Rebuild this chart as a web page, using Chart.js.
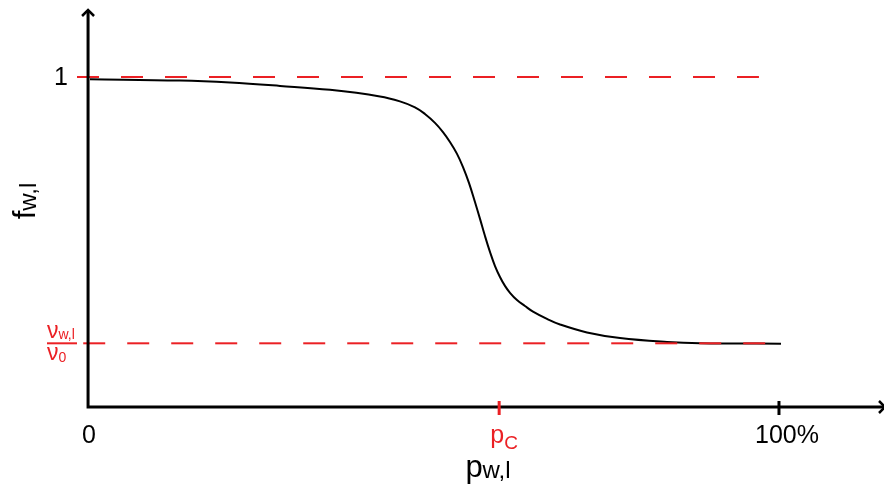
<!DOCTYPE html>
<html><head><meta charset="utf-8">
<script src="https://cdn.jsdelivr.net/npm/chart.js@4/dist/chart.umd.min.js"></script>
<style>html,body{margin:0;padding:0;background:#fff}</style>
</head><body>
<canvas id="c" width="884" height="489" style="width:884px;height:489px;display:block"></canvas>
<script>
// ---- data ----
const curveX = [0.28, 13.31, 20.55, 27.78, 35.02, 42.25, 45.14, 47.32, 48.76, 50.21, 51.37, 52.38, 53.40, 54.27, 55.13, 56.00, 56.73, 57.45, 58.17, 58.90, 59.62, 60.34, 61.07, 62.08, 63.24, 64.40, 66.42, 68.31, 72.21, 76.99, 83.79, 88.57, 100.29];
const curveY = [0.993, 0.989, 0.983, 0.973, 0.961, 0.941, 0.926, 0.908, 0.888, 0.861, 0.833, 0.803, 0.767, 0.727, 0.679, 0.621, 0.570, 0.518, 0.470, 0.427, 0.394, 0.367, 0.346, 0.324, 0.306, 0.289, 0.267, 0.250, 0.226, 0.209, 0.197, 0.193, 0.192];
const upperLevel = 1;
const lowerLevel = 0.193;
const upperLineX = [-1.6, 97.1];
const lowerLineX = [-0.7, 98.0];
const criticalP = 59.5;
const xTickValues = [0, criticalP, 100];
const xTickLabels = [['0', ''], ['p', 'C'], ['100%', '']];
const yTickLabels = ['1'];
const xTitle = ['p', 'w,l'];
const yTitle = ['f', 'w,l'];
const fracTop = ['ν', 'w,l'];
const fracBottom = ['ν', '0'];

const RED = 'rgb(235,32,36)';
const FONT = '"Liberation Sans", Arial, sans-serif';

function subText(ctx, parts, x, y, size, subSize, dy, align, color) {
  ctx.save();
  ctx.fillStyle = color;
  ctx.textBaseline = 'alphabetic';
  ctx.textAlign = 'left';
  ctx.font = size + 'px ' + FONT;
  const w1 = ctx.measureText(parts[0]).width;
  ctx.font = subSize + 'px ' + FONT;
  const w2 = parts[1] ? ctx.measureText(parts[1]).width : 0;
  const total = w1 + w2;
  let x0 = x;
  if (align === 'center') x0 = x - total / 2;
  else if (align === 'right') x0 = x - total;
  ctx.font = size + 'px ' + FONT;
  ctx.fillText(parts[0], x0, y);
  if (parts[1]) {
    ctx.font = subSize + 'px ' + FONT;
    ctx.fillText(parts[1], x0 + w1, y + dy);
  }
  ctx.restore();
}

const labelShift = [1, 5, 8];

const axesPlugin = {
  id: 'axesPlugin',
  afterDatasetsDraw(chart) {
    const ctx = chart.ctx;
    const xs = chart.scales.x, ys = chart.scales.y;
    const x0 = xs.getPixelForValue(0), y0 = ys.getPixelForValue(0);
    const xEnd = chart.chartArea.right, yTop = chart.chartArea.top;
    ctx.save();
    ctx.strokeStyle = '#000';
    ctx.lineWidth = 3;
    ctx.lineCap = 'butt';
    ctx.beginPath();
    ctx.moveTo(x0, y0); ctx.lineTo(x0, yTop);
    ctx.moveTo(x0 - 1.5, y0); ctx.lineTo(xEnd, y0);
    ctx.stroke();
    // arrowheads
    ctx.lineWidth = 2.5;
    ctx.beginPath();
    ctx.moveTo(x0 - 6, yTop + 6); ctx.lineTo(x0, yTop); ctx.lineTo(x0 + 6, yTop + 6);
    ctx.moveTo(xEnd - 5, y0 - 6); ctx.lineTo(xEnd + 1, y0); ctx.lineTo(xEnd - 5, y0 + 6);
    ctx.stroke();
    // ticks
    ctx.lineWidth = 3;
    xTickValues.forEach((v) => {
      if (v === 0) return;
      const px = xs.getPixelForValue(v);
      ctx.strokeStyle = (v === criticalP) ? RED : '#000';
      ctx.beginPath(); ctx.moveTo(px, y0 - 6); ctx.lineTo(px, y0 + 8); ctx.stroke();
    });
    ctx.restore();
    // tick labels
    xTickValues.forEach((v, i) => {
      const px = xs.getPixelForValue(v);
      const isC = v === criticalP;
      subText(ctx, xTickLabels[i], px + labelShift[i], 443, 25, 19, 6, 'center', isC ? RED : '#000');
    });
    subText(ctx, [yTickLabels[0], ''], 68, ys.getPixelForValue(upperLevel) + 8, 25, 19, 0, 'right', '#000');
    // fraction
    const fy = ys.getPixelForValue(lowerLevel);
    ctx.save();
    ctx.strokeStyle = RED; ctx.lineWidth = 2;
    ctx.beginPath(); ctx.moveTo(47, fy); ctx.lineTo(77, fy); ctx.stroke();
    ctx.restore();
    subText(ctx, fracTop, 47, fy - 5, 23, 14, 1, 'left', RED);
    subText(ctx, fracBottom, 47, fy + 17, 23, 14, 2, 'left', RED);
    // axis titles
    subText(ctx, xTitle, 488, 477, 31, 24, 1, 'center', '#000');
    ctx.save();
    ctx.translate(35, 201);
    ctx.rotate(-Math.PI / 2);
    subText(ctx, yTitle, 0, 0, 31, 24, 1, 'center', '#000');
    ctx.restore();
  }
};

new Chart(document.getElementById('c'), {
  type: 'scatter',
  data: {
    datasets: [
      {
        data: upperLineX.map(x => ({x, y: upperLevel})),
        showLine: true, borderColor: RED, borderWidth: 2, borderDash: [22, 22],
        pointRadius: 0, clip: false
      },
      {
        data: lowerLineX.map(x => ({x, y: lowerLevel})),
        showLine: true, borderColor: RED, borderWidth: 2, borderDash: [22, 22],
        pointRadius: 0, clip: false
      },
      {
        data: curveX.map((x, i) => ({x, y: curveY[i]})),
        showLine: true, borderColor: '#000', borderWidth: 2,
        tension: 0.4, pointRadius: 0, clip: false
      }
    ]
  },
  options: {
    responsive: false,
    animation: false,
    devicePixelRatio: 1,
    layout: { padding: { left: 77, right: 0, top: 10, bottom: 82 } },
    plugins: { legend: { display: false }, tooltip: { enabled: false } },
    scales: {
      x: { type: 'linear', min: -1.6, max: 115.2, display: false },
      y: { type: 'linear', min: 0, max: 1.203, display: false }
    }
  },
  plugins: [axesPlugin]
});
</script>
</body></html>
